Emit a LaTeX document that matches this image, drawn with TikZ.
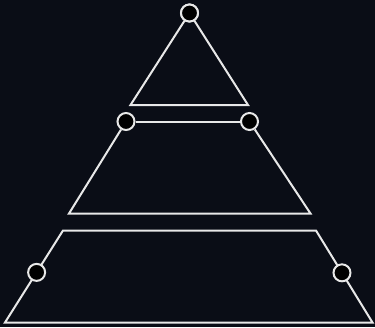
\documentclass[tikz,border=0pt]{standalone}
\usepackage{tikz}
\usetikzlibrary{calc}
\definecolor{skyBg}{RGB}{10,13,22}
\definecolor{lineWhite}{RGB}{232,232,232}
\tikzset{
    every picture/.style={x=1pt,y=-1pt},
    % layer outlines and joint circles
    layer/.style={draw=lineWhite,line width=2pt,line join=miter},
    joint/.style={circle,draw=lineWhite,fill=black,line width=2pt,minimum size=17pt,inner sep=0pt}
}
\begin{document}
\begin{tikzpicture}
    % background
    \fill[skyBg] (0,0) rectangle (375,327);
    \useasboundingbox (0,0) rectangle (375,327);

    % Top triangle
    \coordinate (tl) at (130.5,105);
    \coordinate (tr) at (248,105);
    \node[joint] (apex) at (189.5,13) {};
    \draw[layer] (apex) -- (tl) -- (tr) -- (apex);
    \node[joint] at (189.5,13) {};

    % Middle trapezoid
    \coordinate (ml) at (69,213.5);
    \coordinate (mr) at (310.5,213.5);
    \node[joint] (midL) at (126,121.5) {};
    \node[joint] (midR) at (249.5,121.5) {};
    \draw[layer] (midL) -- (midR);
    \draw[layer] (midL) -- (ml) -- (mr) -- (midR);

    % Bottom trapezoid
    \coordinate (bl) at (63,230.5);
    \coordinate (br) at (316,230.5);
    \coordinate (fl) at (5,322.5);
    \coordinate (fr) at (372.5,322.5);
    \draw[layer] (fl) -- (bl) -- (br) -- (fr) -- cycle;
    \node[joint] (sideL) at ($(bl)!0.455!(fl)$) {};
    \node[joint] (sideR) at ($(br)!0.46!(fr)$) {};
\end{tikzpicture}
\end{document}
